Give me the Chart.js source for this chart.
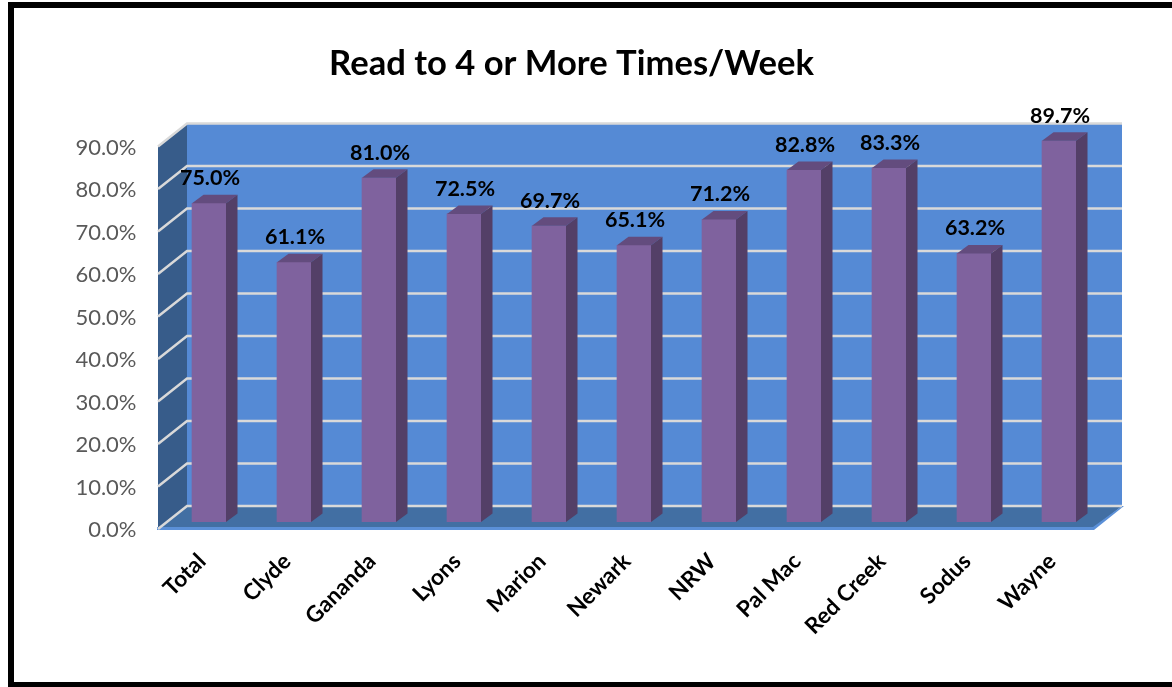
<!DOCTYPE html>
<html>
<head>
<meta charset="utf-8">
<script src="https://cdn.jsdelivr.net/npm/chart.js@4"></script>
<style>
  html, body { margin: 0; padding: 0; background: #fff; overflow: hidden; }
  #frame { position: absolute; left: 8px; top: 2px; width: 1164px; height: 685px; box-sizing: border-box;
           border-left: 6px solid #000; border-top: 6px solid #000; border-bottom: 5px solid #000; }
  canvas { position: absolute; left: 0; top: 0; }
</style>
</head>
<body>
<div id="frame"></div>
<canvas id="readChart" width="1172" height="687"></canvas>
<script>
const categories = ['Total', 'Clyde', 'Gananda', 'Lyons', 'Marion', 'Newark', 'NRW', 'Pal Mac', 'Red Creek', 'Sodus', 'Wayne'];
const readPct = [75.0, 61.1, 81.0, 72.5, 69.7, 65.1, 71.2, 82.8, 83.3, 63.2, 89.7];
const titleText = 'Read to 4 or More Times/Week';

// offsets of the fake 3D box, relative to the plane of the bars
const wallBack = { dx: 20.5, dy: -16 };
const wallFront = { dx: -8.5, dy: 7 };
const barDepth = { dx: 11.5, dy: -8.5 };

// walls, floor and gridlines go under the bars
const boxPlugin = {
  id: 'box3d',
  beforeDatasetsDraw(chart) {
    const { ctx, chartArea: a, scales: { y } } = chart;
    const y0 = y.getPixelForValue(0);
    const yTop = y.getPixelForValue(90);
    const bl = a.left + wallBack.dx, br = a.right + wallBack.dx;
    const fl = a.left + wallFront.dx, fr = a.right + wallFront.dx;

    const poly = (pts, color) => {
      ctx.fillStyle = color;
      ctx.beginPath();
      pts.forEach((p, i) => i ? ctx.lineTo(p[0], p[1]) : ctx.moveTo(p[0], p[1]));
      ctx.closePath();
      ctx.fill();
    };

    ctx.save();
    // back wall
    poly([[bl, yTop + wallBack.dy], [br, yTop + wallBack.dy], [br, y0 + wallBack.dy], [bl, y0 + wallBack.dy]], '#558ad5');
    // left wall
    poly([[fl, yTop + wallFront.dy], [bl, yTop + wallBack.dy], [bl, y0 + wallBack.dy], [fl, y0 + wallFront.dy]], '#375c8a');
    // floor
    poly([[fl, y0 + wallFront.dy], [bl, y0 + wallBack.dy], [br, y0 + wallBack.dy], [fr, y0 + wallFront.dy]], '#426fa3');
    // lighter front and right edges of the floor
    poly([[fl - 1, y0 + wallFront.dy - 2], [fr, y0 + wallFront.dy - 2], [br, y0 + wallBack.dy], [br + 2, y0 + wallBack.dy],
          [fr + 1, y0 + wallFront.dy + 1], [fl - 1, y0 + wallFront.dy + 1]], '#5b90d8');

    // gridlines run across the back wall and down the left wall
    ctx.strokeStyle = '#d9d9d9';
    ctx.lineWidth = 2.5;
    y.ticks.forEach(t => {
      const py = y.getPixelForValue(t.value);
      ctx.beginPath();
      ctx.moveTo(fl, py + wallFront.dy);
      ctx.lineTo(bl, py + wallBack.dy);
      ctx.lineTo(br, py + wallBack.dy);
      ctx.stroke();
    });
    ctx.restore();
  },
  afterDatasetsDraw(chart) {
    const { ctx } = chart;
    const bars = chart.getDatasetMeta(0).data;
    ctx.save();
    bars.forEach((bar, i) => {
      const left = bar.x - bar.width / 2, right = bar.x + bar.width / 2;
      // top face
      ctx.fillStyle = '#634c7e';
      ctx.beginPath();
      ctx.moveTo(left, bar.y);
      ctx.lineTo(left + barDepth.dx, bar.y + barDepth.dy);
      ctx.lineTo(right + barDepth.dx, bar.y + barDepth.dy);
      ctx.lineTo(right, bar.y);
      ctx.closePath();
      ctx.fill();
      // side face
      ctx.fillStyle = '#533f67';
      ctx.beginPath();
      ctx.moveTo(right, bar.y);
      ctx.lineTo(right + barDepth.dx, bar.y + barDepth.dy);
      ctx.lineTo(right + barDepth.dx, bar.base + barDepth.dy);
      ctx.lineTo(right, bar.base);
      ctx.closePath();
      ctx.fill();
      // value label
      ctx.fillStyle = '#000';
      ctx.font = 'bold 21.5px Lato';
      ctx.textAlign = 'center';
      ctx.textBaseline = 'middle';
      ctx.fillText(readPct[i].toFixed(1) + '%', bar.x + 1, bar.y - 25);
    });
    ctx.restore();
  }
};

new Chart(document.getElementById('readChart'), {
  type: 'bar',
  data: {
    labels: categories,
    datasets: [{
      data: readPct,
      backgroundColor: '#7f629e',
      barThickness: 34
    }]
  },
  options: {
    responsive: false,
    animation: false,
    layout: { padding: { left: 41.5, right: 70.5, top: 0, bottom: 0 } },
    plugins: {
      legend: { display: false },
      tooltip: { enabled: false },
      title: {
        display: true,
        text: titleText,
        color: '#000',
        font: { family: 'Lato', size: 34.6, weight: 'bold', lineHeight: 1.2 },
        padding: { top: 43.2, bottom: 54.8 }
      }
    },
    scales: {
      x: {
        grid: { display: false, drawTicks: false },
        border: { display: false },
        afterFit(scale) { scale.height = 165; },
        ticks: {
          autoSkip: false,
          minRotation: 45,
          maxRotation: 45,
          padding: 26,
          labelOffset: -7,
          color: '#000',
          font: { family: 'Lato', size: 22.5, weight: 'bold' }
        }
      },
      y: {
        min: 0,
        max: 90,
        grid: { display: false, drawTicks: false },
        border: { display: false },
        afterFit(scale) { scale.width = 125; },
        ticks: {
          stepSize: 10,
          padding: 30,
          labelOffset: 8,
          color: '#595959',
          font: { family: 'Lato', size: 22 },
          callback: v => v.toFixed(1) + '%'
        }
      }
    }
  },
  plugins: [boxPlugin]
});
</script>
</body>
</html>
